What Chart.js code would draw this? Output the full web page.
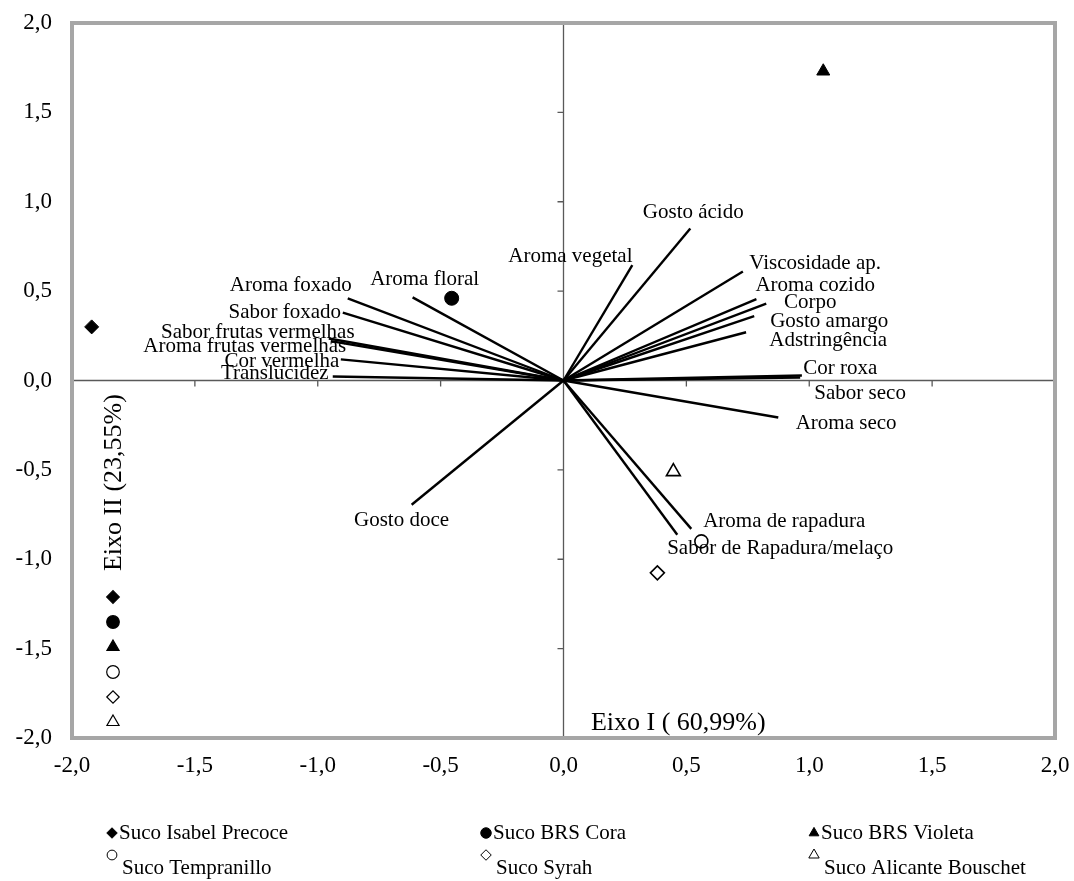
<!DOCTYPE html>
<html><head><meta charset="utf-8">
<script src="https://cdn.jsdelivr.net/npm/chart.js@4.4.0/dist/chart.umd.min.js"></script>
<style>html,body{margin:0;padding:0;background:#fff}#wrap{width:1074px;height:881px}</style>
</head><body><div id="wrap"><canvas id="c" width="1074" height="881"></canvas></div>
<script>
// ---- data ----
const attributes = ['Aroma foxado','Sabor foxado','Sabor frutas vermelhas','Aroma frutas vermelhas','Cor vermelha','Translucidez','Aroma floral','Aroma vegetal','Gosto ácido','Viscosidade ap.','Aroma cozido','Corpo','Gosto amargo','Adstringência','Cor roxa','Sabor seco','Aroma seco','Aroma de rapadura','Sabor de Rapadura/melaço','Gosto doce'];
const vecX = [-0.878,-0.898,-0.955,-0.947,-0.906,-0.939,-0.614,0.280,0.516,0.730,0.785,0.825,0.776,0.743,0.970,0.963,0.874,0.520,0.463,-0.618];
const vecY = [0.460,0.380,0.235,0.220,0.118,0.022,0.465,0.645,0.850,0.610,0.455,0.430,0.360,0.270,0.028,0.017,-0.207,-0.830,-0.863,-0.695];
const labelX = [-1.110,-1.134,-1.244,-1.297,-1.146,-1.175,-0.565,0.028,0.528,1.024,1.024,1.004,1.081,1.077,1.126,1.207,1.150,0.898,0.882,-0.659];
const labelY = [0.532,0.381,0.269,0.190,0.106,0.039,0.566,0.695,0.941,0.655,0.532,0.437,0.331,0.224,0.067,-0.073,-0.241,-0.790,-0.941,-0.784];
const samples = ['Suco Isabel Precoce','Suco BRS Cora','Suco BRS Violeta','Suco Tempranillo','Suco Syrah','Suco Alicante Bouschet'];
const sampleX = [-1.920,-0.455,1.057,0.561,0.382,0.447];
const sampleY = [0.300,0.460,1.730,-0.900,-1.076,-0.510];
const tickValues = [-2,-1.5,-1,-0.5,0,0.5,1,1.5,2];
const axisTitles = ['Eixo I ( 60,99%)','Eixo II (23,55%)'];

// ---- styles ----
const FONT = '"Liberation Serif","Times New Roman",serif';
const sampleShape = ['rectRot','circle','triangle','circle','rectRot','triangle'];
const sampleFilled = [true,true,true,false,false,false];
const sampleRadius = [7,7,7.5,6.5,7,8];
const columnRadius = [6.3,6.3,7,6.3,6.2,7];

const datasets = [];
samples.forEach((name,i)=>{
  datasets.push({
    label:name, data:[{x:sampleX[i],y:sampleY[i]}],
    pointStyle:sampleShape[i], pointRadius:sampleRadius[i], pointHoverRadius:sampleRadius[i],
    backgroundColor: sampleFilled[i] ? '#000' : '#fff', borderColor:'#000',
    borderWidth: sampleFilled[i] ? 1 : 1.6, showLine:false
  });
});
attributes.forEach((name,i)=>{
  datasets.push({
    label:name, data:[{x:0,y:0},{x:vecX[i],y:vecY[i]}],
    showLine:true, borderColor:'#000', borderWidth:2.4, pointRadius:0, pointHoverRadius:0,
    fill:false, tension:0
  });
});

function fmt(v){ return v.toFixed(1).replace('.',','); }

const biplot = {
  id:'biplot',
  beforeDatasetsDraw(chart){
    const {ctx, chartArea:a, scales:{x,y}} = chart;
    const x0 = x.getPixelForValue(0), y0 = y.getPixelForValue(0);
    ctx.save();
    ctx.strokeStyle = '#595959'; ctx.lineWidth = 1.3;
    ctx.beginPath();
    ctx.moveTo(a.left, y0); ctx.lineTo(a.right, y0);
    ctx.moveTo(x0, a.top); ctx.lineTo(x0, a.bottom);
    tickValues.forEach(v=>{
      const px = x.getPixelForValue(v);
      ctx.moveTo(px, y0); ctx.lineTo(px, y0+6);
      const py = y.getPixelForValue(v);
      ctx.moveTo(x0-6, py); ctx.lineTo(x0, py);
    });
    ctx.stroke();
    ctx.restore();
  },
  afterDatasetsDraw(chart){
    const {ctx, chartArea:a, scales:{x,y}} = chart;
    ctx.save();
    ctx.fillStyle = '#000';
    ctx.font = '21px ' + FONT;
    ctx.textAlign = 'center'; ctx.textBaseline = 'middle';
    attributes.forEach((t,i)=>{
      ctx.fillText(t, x.getPixelForValue(labelX[i]), y.getPixelForValue(labelY[i]));
    });
    // axis titles
    ctx.font = '26px ' + FONT;
    ctx.fillText(axisTitles[0], x.getPixelForValue(0.467), y.getPixelForValue(-1.916));
    ctx.save();
    ctx.translate(x.getPixelForValue(-1.829), y.getPixelForValue(-0.571));
    ctx.rotate(-Math.PI/2);
    ctx.fillText(axisTitles[1], 0, 0);
    ctx.restore();
    // in-plot marker column
    const colX = a.left + 41;
    samples.forEach((s,i)=>{
      const cy = a.top + 574 + i*25;
      ctx.fillStyle = sampleFilled[i] ? '#000' : '#fff';
      ctx.strokeStyle = '#000'; ctx.lineWidth = 1.2;
      Chart.helpers.drawPoint(ctx,{pointStyle:sampleShape[i], radius:columnRadius[i], rotation:0, borderWidth:1.2}, colX, cy);
    });
    // frame
    ctx.strokeStyle = '#a6a6a6'; ctx.lineWidth = 4;
    ctx.strokeRect(a.left, a.top, a.right-a.left, a.bottom-a.top);
    ctx.restore();
  },
  afterDraw(chart){
    const {ctx} = chart;
    ctx.save();
    ctx.font = '21px ' + FONT;
    ctx.textAlign = 'left'; ctx.textBaseline = 'middle';
    const colMarker = [112, 486, 814];
    samples.forEach((s,i)=>{
      const col = i % 3, row = Math.floor(i/3);
      const mx = colMarker[col];
      const my = row === 0 ? 833 : 855;
      const ty = row === 0 ? 833 : 868;
      ctx.fillStyle = sampleFilled[i] ? '#000' : '#fff';
      ctx.strokeStyle = '#000';
      Chart.helpers.drawPoint(ctx,{pointStyle:sampleShape[i], radius:sampleRadius[i]*0.75, rotation:0, borderWidth:1.1}, mx, my);
      ctx.fillStyle = '#000';
      ctx.fillText(s, mx + (row===0 ? 7 : 10), ty);
    });
    ctx.restore();
  }
};

new Chart(document.getElementById('c'),{
  type:'scatter',
  data:{datasets},
  options:{
    responsive:false, animation:false, events:[],
    layout:{padding:{top:23,right:19,bottom:93,left:0}},
    plugins:{legend:{display:false}, tooltip:{enabled:false}},
    scales:{
      x:{type:'linear', min:-2, max:2,
        afterBuildTicks(s){ s.ticks = tickValues.map(v=>({value:v})); },
        afterFit(s){ s.height = 50; },
        grid:{display:false, drawTicks:true, tickLength:14}, border:{display:false},
        ticks:{padding:0, color:'#000', font:{family:FONT, size:23}, callback:v=>fmt(v), maxRotation:0, autoSkip:false}
      },
      y:{type:'linear', min:-2, max:2,
        afterBuildTicks(s){ s.ticks = tickValues.map(v=>({value:v})); },
        afterFit(s){ s.width = 72; },
        grid:{display:false, drawTicks:true, tickLength:11}, border:{display:false},
        ticks:{padding:9, color:'#000', font:{family:FONT, size:23}, callback:v=>fmt(v), autoSkip:false}
      }
    }
  },
  plugins:[biplot]
});
</script></body></html>
